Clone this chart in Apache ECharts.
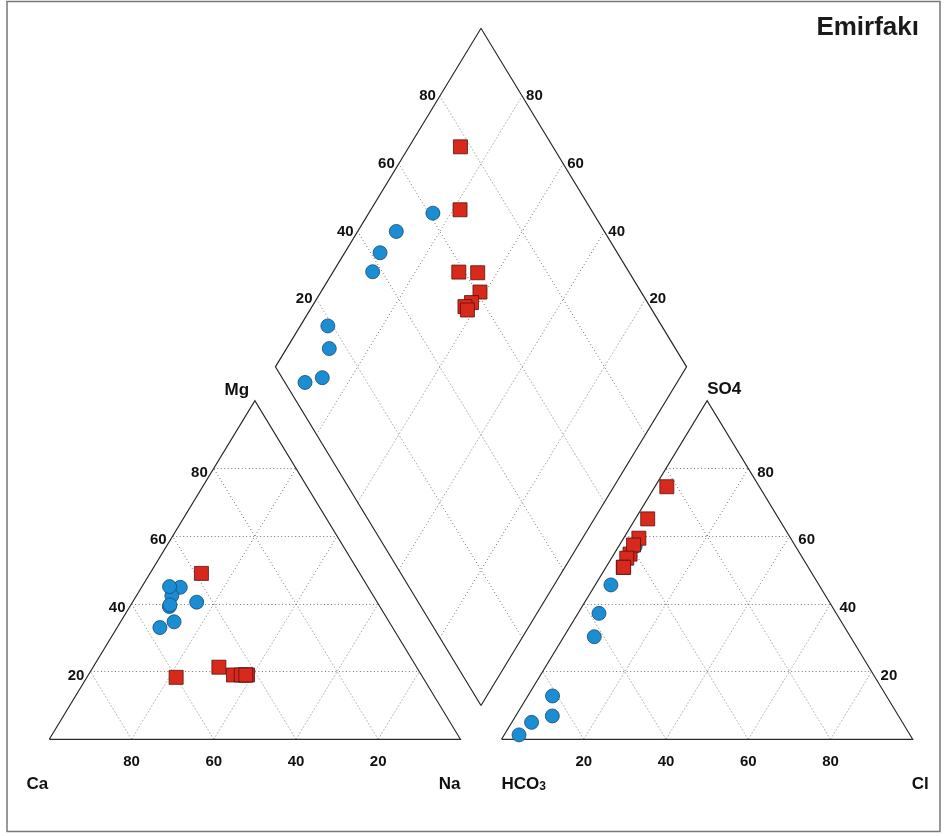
<!DOCTYPE html>
<html><head><meta charset="utf-8">
<script src="https://cdn.jsdelivr.net/npm/echarts@6/dist/echarts.min.js"></script>
<style>html,body{margin:0;padding:0;background:#fff}#c{width:947px;height:836px}</style>
</head><body><div id="c"></div>
<script>
// ---- data (milliequivalent %) ----
const tickValues = [20, 40, 60, 80];
// blue circles
const blueCa   = [43.9, 45.7, 49.0, 51.2, 48.2, 56.6, 52.3, 50.8];
const blueMg   = [40.5, 44.9, 42.4, 39.2, 45.1, 33.0, 34.7, 39.7];
const blueNa   = [15.6,  9.4,  8.6,  9.6,  6.7, 10.4, 13.0,  9.5];
const blueHCO3 = [39.0, 50.6, 57.7, 62.3, 81.2, 84.2, 90.2, 95.1];
const blueSO4  = [57.0, 45.6, 37.2, 30.3, 12.8,  6.9,  5.0,  1.3];
const blueCl   = [ 4.0,  3.8,  5.1,  7.4,  6.0,  8.9,  4.8,  3.6];
// red squares
const redCa    = [38.5, 60.0, 48.1, 45.7, 42.3, 42.8, 43.8, 42.7];
const redMg    = [49.0, 18.3, 21.3, 19.0, 19.0, 19.0, 19.0, 19.0];
const redNa    = [12.5, 21.7, 30.6, 35.3, 38.7, 38.2, 37.2, 38.3];
const redHCO3  = [22.5, 31.9, 41.4, 36.9, 39.2, 42.8, 45.0, 44.9];
const redSO4   = [74.6, 65.1, 54.7, 59.4, 57.4, 53.5, 50.8, 50.8];
const redCl    = [ 2.9,  3.0,  3.9,  3.7,  3.4,  3.7,  4.2,  4.3];

// ---- ternary geometry (model units: triangle side = 100) ----
const S3 = Math.sqrt(3) / 2;
const GAP = 10;
const H = 100 * S3;
const Y_TOP = GAP / 2 * Math.sqrt(3) + 2 * H;
function cation(mg, na) { return [na + mg * 0.5, mg * S3]; }
function anion(so4, cl) { return [100 + GAP + cl + so4 * 0.5, so4 * S3]; }
// p = (Ca+Mg)/100, q = (SO4+Cl)/100
function diamondPQ(p, q) { return [100 + GAP / 2 - 50 * p + 50 * q, GAP / 2 * Math.sqrt(3) + H * (p + q)]; }

function build(ca, mg, na, hco3, so4, cl) {
  const c = [], a = [], d = [];
  for (let i = 0; i < ca.length; i++) {
    const ct = ca[i] + mg[i] + na[i], at = hco3[i] + so4[i] + cl[i];
    const m = mg[i] / ct * 100, n = na[i] / ct * 100;
    const s = so4[i] / at * 100, l = cl[i] / at * 100;
    c.push(cation(m, n));
    a.push(anion(s, l));
    d.push(diamondPQ((100 - n) / 100, (s + l) / 100));
  }
  return c.concat(a, d);
}
const bluePts = build(blueCa, blueMg, blueNa, blueHCO3, blueSO4, blueCl);
const redPts = build(redCa, redMg, redNa, redHCO3, redSO4, redCl);

// outlines
const outlines = [
  { coords: [cation(0, 0), cation(0, 100), cation(100, 0), cation(0, 0)] },
  { coords: [anion(0, 0), anion(0, 100), anion(100, 0), anion(0, 0)] },
  { coords: [diamondPQ(0, 0), diamondPQ(0, 1), diamondPQ(1, 1), diamondPQ(1, 0), diamondPQ(0, 0)] }
];
// grid lines
const grid = [];
tickValues.forEach(k => {
  grid.push({ coords: [cation(k, 0), cation(k, 100 - k)] });
  grid.push({ coords: [cation(0, k), cation(100 - k, k)] });
  grid.push({ coords: [cation(0, 100 - k), cation(100 - k, 0)] });
  grid.push({ coords: [anion(k, 0), anion(k, 100 - k)] });
  grid.push({ coords: [anion(0, k), anion(100 - k, k)] });
  grid.push({ coords: [anion(0, 100 - k), anion(100 - k, 0)] });
  grid.push({ coords: [diamondPQ(k / 100, 0), diamondPQ(k / 100, 1)] });
  grid.push({ coords: [diamondPQ(0, k / 100), diamondPQ(1, k / 100)] });
});

// tick labels
const FONT = 'Liberation Sans, Arial, Helvetica, sans-serif';
const TXT = '#111';
const labels = [];
function addLabel(pt, text, dx, dy, align, extra) {
  labels.push({ value: pt, label: Object.assign({ show: true, position: 'inside', formatter: text, offset: [dx, dy], align: align, verticalAlign: 'middle',
    fontFamily: FONT, fontSize: 15, fontWeight: 'bold', color: TXT, textBorderWidth: 0, textBorderColor: 'transparent', opacity: 1 }, extra || {}) });
}
tickValues.forEach(k => {
  addLabel(cation(0, k), String(100 - k), 0, 23, 'center');
  addLabel(cation(k, 0), String(k), -6, 4, 'right');
  addLabel(anion(0, k), String(k), 0, 23, 'center');
  addLabel(anion(k, 100 - k), String(k), 9, 4, 'left');
  addLabel(diamondPQ(1, k / 100), String(k), -4, 0, 'right');
  addLabel(diamondPQ(k / 100, 1), String(k), 4, 0, 'left');
});
const cornerStyle = { fontSize: 17 };
addLabel(cation(100, 0), 'Mg', -18, -10, 'center', cornerStyle);
addLabel(anion(100, 0), 'SO4', 0, -11, 'left', cornerStyle);
addLabel(cation(0, 0), 'Ca', -1, 45, 'right', cornerStyle);
addLabel(cation(0, 100), 'Na', 0, 45, 'right', cornerStyle);
addLabel(anion(0, 0), 'HCO{s|3}', 0, 45, 'left', Object.assign({ rich: { s: { fontSize: 12, fontWeight: 'bold', fontFamily: FONT, color: TXT, verticalAlign: 'bottom', padding: [4, 0, 0, 0] } } }, cornerStyle));
addLabel(anion(0, 100), 'Cl', -1, 45, 'left', cornerStyle);

const chart = echarts.init(document.getElementById('c'), null, { renderer: 'canvas' });
chart.setOption({
  animation: false,
  backgroundColor: '#fff',
  title: { text: 'Emirfakı', right: 23, top: 10, textStyle: { fontFamily: FONT, fontSize: 26, fontWeight: 'bold', color: '#1a1a1a' } },
  graphic: [{ type: 'rect', shape: { x: 7, y: 1.5, width: 933, height: 830 }, style: { fill: null, stroke: '#777', lineWidth: 1.5 }, silent: true }],
  grid: { left: 49.3, top: 28.3, width: 863.4, height: 711 },
  xAxis: { type: 'value', min: 0, max: 200 + GAP, show: false },
  yAxis: { type: 'value', min: 0, max: Y_TOP, show: false },
  series: [
    { type: 'lines', coordinateSystem: 'cartesian2d', polyline: false, silent: true, z: 1,
      lineStyle: { color: '#777', width: 1, type: [1, 2.5], opacity: 1 }, data: grid },
    { type: 'lines', coordinateSystem: 'cartesian2d', polyline: true, silent: true, z: 2,
      lineStyle: { color: '#2a2a2a', width: 1.2, opacity: 1 }, data: outlines },
    { type: 'scatter', name: 'blue', symbol: 'circle', symbolSize: 14, z: 3,
      itemStyle: { color: '#1b8ed3', borderColor: '#18496e', borderWidth: 0.8, opacity: 1 }, data: bluePts },
    { type: 'scatter', name: 'red', symbol: 'rect', symbolSize: 14, z: 4,
      itemStyle: { color: '#d8291d', borderColor: '#5c120c', borderWidth: 0.8, opacity: 1 }, data: redPts },
    { type: 'scatter', symbolSize: 0, silent: true, z: 5, itemStyle: { color: 'transparent', opacity: 1 },
      emphasis: { disabled: true }, label: { show: true, color: TXT }, data: labels }
  ]
});
</script></body></html>
